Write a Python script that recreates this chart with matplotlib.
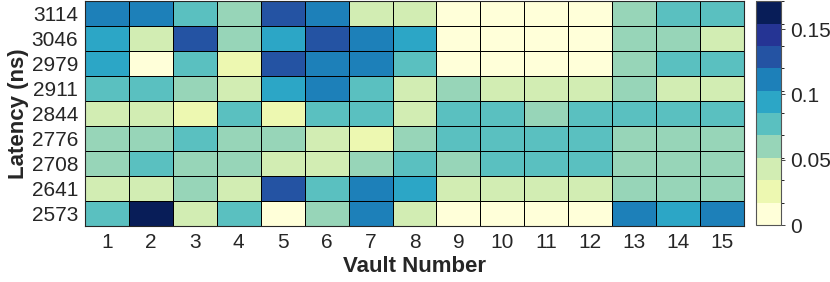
import matplotlib
matplotlib.use('Agg')
import matplotlib.pyplot as plt
import numpy as np
from matplotlib.colors import ListedColormap, BoundaryNorm

plt.rcParams['font.family'] = ['Liberation Sans', 'DejaVu Sans']

latency = [3114, 3046, 2979, 2911, 2844, 2776, 2708, 2641, 2573]
vaults = list(range(1, 16))

# fraction of requests per (latency bin, vault), rows top to bottom
frac = np.array([
    [0.112, 0.110, 0.078, 0.060, 0.128, 0.108, 0.044, 0.042, 0.004, 0.004, 0.004, 0.004, 0.062, 0.076, 0.078],
    [0.094, 0.042, 0.130, 0.060, 0.095, 0.128, 0.110, 0.092, 0.003, 0.003, 0.003, 0.003, 0.060, 0.058, 0.044],
    [0.092, 0.005, 0.076, 0.028, 0.132, 0.112, 0.110, 0.078, 0.003, 0.003, 0.003, 0.003, 0.062, 0.078, 0.077],
    [0.078, 0.076, 0.060, 0.044, 0.096, 0.112, 0.076, 0.042, 0.058, 0.044, 0.042, 0.044, 0.060, 0.040, 0.042],
    [0.044, 0.042, 0.026, 0.076, 0.028, 0.078, 0.076, 0.042, 0.078, 0.076, 0.060, 0.078, 0.077, 0.076, 0.078],
    [0.060, 0.062, 0.078, 0.060, 0.058, 0.044, 0.028, 0.060, 0.076, 0.078, 0.077, 0.076, 0.060, 0.058, 0.060],
    [0.058, 0.078, 0.060, 0.060, 0.042, 0.044, 0.062, 0.076, 0.060, 0.078, 0.076, 0.078, 0.060, 0.058, 0.060],
    [0.042, 0.044, 0.058, 0.042, 0.130, 0.078, 0.112, 0.094, 0.042, 0.044, 0.042, 0.044, 0.060, 0.058, 0.060],
    [0.078, 0.166, 0.044, 0.076, 0.006, 0.060, 0.112, 0.044, 0.004, 0.004, 0.003, 0.004, 0.112, 0.094, 0.110],
])

level_colors = ['#ffffd9', '#edf8b1', '#d2edb3', '#97d5b8', '#5ac0c0',
                '#2ca6c6', '#1d80b9', '#2453a3', '#253494', '#081d58']
vmax = 0.1715
cmap = ListedColormap(level_colors)
norm = BoundaryNorm(np.linspace(0, vmax, 11), cmap.N)

fig = plt.figure(figsize=(8.3, 2.82), dpi=100)
ax = fig.add_axes([0.1024, 0.199, 0.794, 0.797])
cax = fig.add_axes([0.911, 0.202, 0.030, 0.794])

mesh = ax.pcolormesh(np.arange(16) + 0.5, np.arange(10) - 0.5, frac,
                     cmap=cmap, norm=norm, edgecolors='k', linewidth=0.7)
ax.set_xlim(0.5, 15.5)
ax.set_ylim(8.5, -0.5)
ax.set_xticks(vaults)
ax.set_xticklabels([str(v) for v in vaults])
ax.set_yticks(range(9))
ax.set_yticklabels([str(l) for l in latency])
ax.tick_params(length=0, labelsize=15, colors='#262626', pad=5)
for s in ax.spines.values():
    s.set_color('#262626')
    s.set_linewidth(0.8)
ax.set_xlabel('Vault Number', fontsize=16, fontweight='bold', color='#262626', labelpad=3)
ax.set_ylabel('Latency (ns)', fontsize=16, fontweight='bold', color='#262626', labelpad=2)

cb = fig.colorbar(mesh, cax=cax, ticks=[0, 0.05, 0.1, 0.15])
cb.ax.set_yticklabels(['0', '0.05', '0.1', '0.15'])
cb.ax.tick_params(labelsize=15, colors='#262626', length=3, width=0.6)
cb.outline.set_edgecolor('#555555')
cb.outline.set_linewidth(0.8)

fig.savefig('out.png', dpi=100)
